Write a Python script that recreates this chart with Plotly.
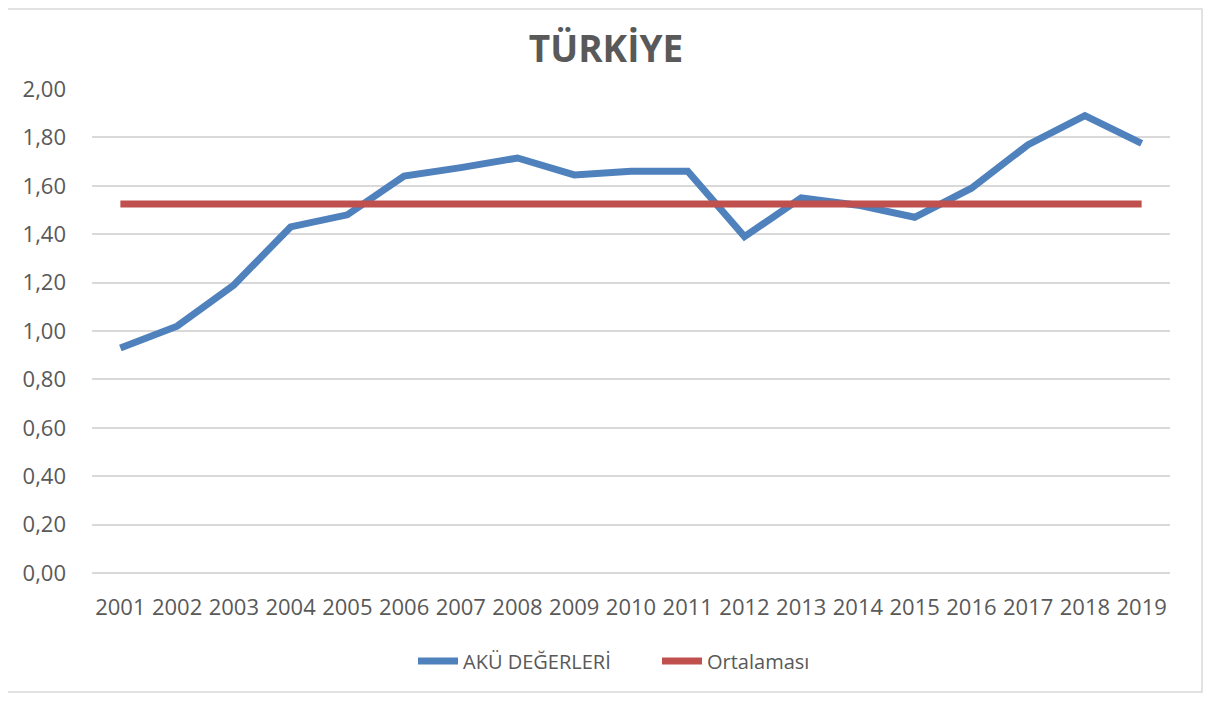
import plotly.graph_objects as go

years = ["2001", "2002", "2003", "2004", "2005", "2006", "2007", "2008", "2009", "2010",
         "2011", "2012", "2013", "2014", "2015", "2016", "2017", "2018", "2019"]
aku_values = [0.93, 1.02, 1.19, 1.43, 1.48, 1.64, 1.675, 1.715, 1.645, 1.66,
              1.66, 1.39, 1.55, 1.52, 1.47, 1.59, 1.77, 1.89, 1.775]
ortalama = [1.525] * 19

title_text = "TÜRKİYE"
series_names = ["AKÜ DEĞERLERİ", "Ortalaması"]

FONT = "Open Sans"
GREY = "#595959"

fig = go.Figure()
fig.add_trace(go.Scatter(x=years, y=aku_values, mode="lines", name=series_names[0],
                         line=dict(color="#4F81BD", width=7)))
fig.add_trace(go.Scatter(x=years, y=ortalama, mode="lines", name=series_names[1],
                         line=dict(color="#C0504D", width=7)))

OFF = 8  # page body margin
W, H = 1216 - OFF, 704 - OFF
L, R, T, B = 92 - OFF, 46, 89 - OFF, 131
pw, ph = W - L - R, H - T - B

def px_to_paper_x(px):
    return (px - OFF - L) / pw

def px_to_paper_y(py):
    return (H - B - (py - OFF)) / ph

fig.update_layout(
    width=W, height=H,
    margin=dict(l=L, r=R, t=T, b=B),
    paper_bgcolor="white", plot_bgcolor="white",
    separators=",.",
    font=dict(family=FONT, color=GREY),
    title=dict(text="<b>" + title_text + "</b>", x=(606 - OFF) / W, xanchor="center",
               y=1 - (49 - OFF) / H, yanchor="middle",
               font=dict(family=FONT, size=37, color=GREY)),
    xaxis=dict(type="category", showgrid=False, showline=False, zeroline=False,
               ticks="", tickfont=dict(size=22, color=GREY), ticklabelstandoff=19,
               range=[-0.5, 18.5], fixedrange=True),
    yaxis=dict(range=[0, 2.0], dtick=0.2, tick0=0, tickformat=".2f",
               showgrid=True, gridcolor="#D9D9D9", gridwidth=1.5,
               zeroline=True, zerolinecolor="#D9D9D9", zerolinewidth=1.5,
               showline=False, ticks="", tickfont=dict(size=22, color=GREY),
               ticklabelstandoff=25),
    legend=dict(orientation="h", x=px_to_paper_x(413), xanchor="left",
                y=px_to_paper_y(661), yanchor="middle",
                font=dict(size=20, color=GREY), itemwidth=40,
                entrywidth=189, entrywidthmode="pixels",
                bgcolor="rgba(0,0,0,0)"),
    showlegend=True,
)

fig.add_shape(type="rect", xref="paper", yref="paper",
              x0=px_to_paper_x(5), x1=px_to_paper_x(1202),
              y0=px_to_paper_y(692), y1=px_to_paper_y(OFF + 1),
              line=dict(color="#D9D9D9", width=1.5), fillcolor="rgba(0,0,0,0)",
              layer="below")

fig.write_html("out.html")
